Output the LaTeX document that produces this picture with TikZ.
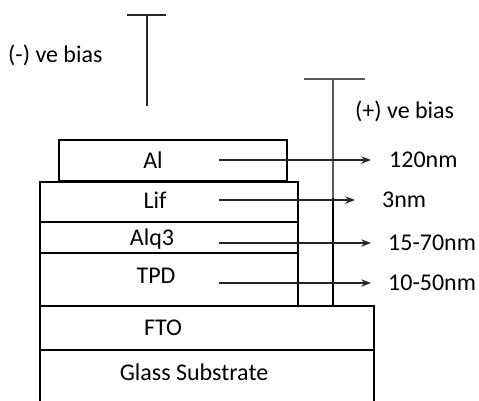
\documentclass[tikz,border=0pt]{standalone}
\usepackage{fontspec}
\setmainfont{Carlito}
\usetikzlibrary{arrows.meta}

\begin{document}
\begin{tikzpicture}[x=1pt, y=-1pt, >=Stealth,
    layer/.style={draw, line width=2.6pt},
    bias/.style={line width=1.4pt, draw=black!65},
    txt/.style={inner sep=0pt, text depth=0pt, font=\fontsize{24}{28}\selectfont},
    thk/.style={->, line width=1.5pt, black!85}]
    \useasboundingbox (0,0) rectangle (479,400);

    % layers of the stack
    \draw[layer] (59,140) rectangle (287,181);
    \draw[layer] (40,182) rectangle (298,222);
    \draw[layer] (40,222) rectangle (298,253);
    \draw[layer] (40,253) rectangle (298,306);
    \draw[layer] (40,306) rectangle (374,350);
    \draw[layer] (40,350) rectangle (374,404);

    \node[txt] (al) at (153,160) {Al};
    \node[txt] (lif) at (155,200) {Lif};
    \node[txt] (alq) at (152,237) {Alq3};
    \node[txt] (tpd) at (156,276) {TPD};
    \node[txt] (fto) at (163,328) {FTO};
    \node[txt] (glass) at (194,372) {Glass Substrate};

    % bias contacts
    \coordinate (nTop) at (147,15);
    \coordinate (nEnd) at (147,106);
    \draw[bias, black!85] (127,15) -- (166,15);
    \draw[bias, black!85] (nTop) -- (nEnd);
    \node[txt, anchor=west] (neg) at (8,54) {(-) ve bias};

    \coordinate (pTop) at (333,79);
    \coordinate (pMid) at (333,198);
    \coordinate (pEnd) at (333,306);
    \draw[bias] (304,79) -- (365,79);
    \draw[bias] (pTop) -- (pEnd);
    \draw[line width=2.4pt] (pMid) -- (pEnd);
    \node[txt, anchor=west] (pos) at (355,110) {(+) ve bias};

    % thickness labels
    \node[txt, anchor=west] (t1) at (389,160) {120nm};
    \node[txt, anchor=west] (t2) at (382,200) {3nm};
    \node[txt, anchor=west] (t3) at (388,243) {15-70nm};
    \node[txt, anchor=west] (t4) at (388,283) {10-50nm};

    \coordinate (s1) at (219,160);
    \coordinate (s2) at (219,200);
    \coordinate (s3) at (219,243);
    \coordinate (s4) at (219,283);
    \draw[thk] (s1) -- ([xshift=-18pt]t1.west);
    \draw[thk] (s2) -- ([xshift=-27pt]t2.west);
    \draw[thk] (s3) -- ([xshift=-17pt]t3.west);
    \draw[thk] (s4) -- ([xshift=-17pt]t4.west);
\end{tikzpicture}
\end{document}
